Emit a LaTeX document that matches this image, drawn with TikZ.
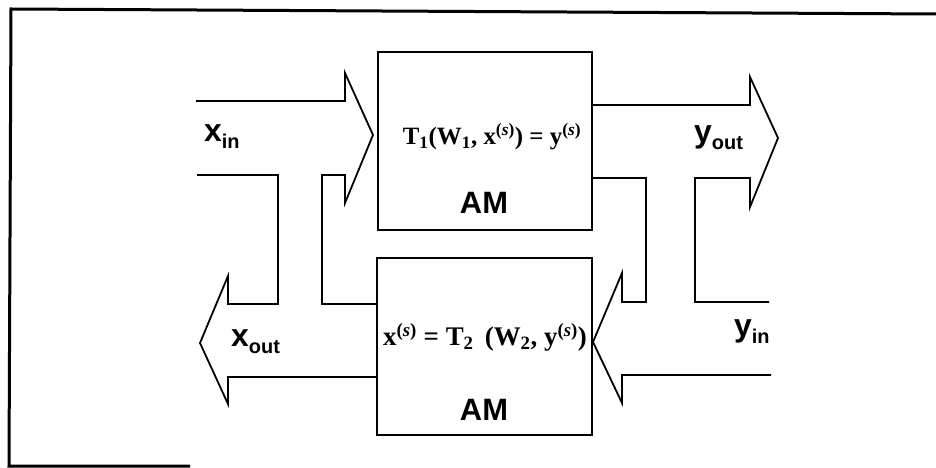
\documentclass[tikz,border=0pt]{standalone}
\usepackage{fontspec}
\setmainfont{Liberation Serif}
\newfontfamily\labfont{Liberation Sans}
\newcommand\sbl[1]{\raisebox{-6.5bp}{\fontsize{20}{20}\selectfont #1}}
\begin{document}
\begin{tikzpicture}[x=1bp,y=-1bp,line join=miter]
\tikzset{
  ambox/.style={draw,line width=2bp,minimum width=214bp,minimum height=178bp,inner sep=0},
  flow/.style={draw,line width=1.8bp},
  lbl/.style={font=\labfont\bfseries\fontsize{32}{32}\selectfont,inner sep=0,anchor=base west},
  eqn/.style={font=\bfseries\fontsize{25}{25}\selectfont,inner sep=0},
  amt/.style={font=\labfont\bfseries\fontsize{31}{31}\selectfont,inner sep=0},
  framel/.style={draw,line width=3bp}
}
\useasboundingbox (0,0) rectangle (936,468);
% outer frame
\draw[framel] (936,14) -- (11,9) -- (9,466) -- (190,466);
% boxes
\node[ambox] (b1) at (485,141) {};
\node[ambox,minimum width=215bp,minimum height=177bp] (b2) at (484.5,346.5) {};
% texts in boxes
\node[eqn] (e1) at (492,137) {T\textsubscript{1}(W\textsubscript{1}, x\textsuperscript{(\textit{s})}) = y\textsuperscript{(\textit{s})}};
\node[amt] (a1) at (484,202.5) {AM};
\node[eqn,font=\bfseries\fontsize{27}{27}\selectfont] (e2) at (485,337) {x\textsuperscript{(\textit{s})} = T\textsubscript{2}\, (W\textsubscript{2}, y\textsuperscript{(\textit{s})})};
\node[amt] (a2) at (484,410) {AM};
% coordinates
\coordinate (r1) at (0,304);
\coordinate (r2) at (0,377);
\coordinate (r3) at (0,105);
\coordinate (r4) at (0,178);
% x_in arrow and feedback
\draw[flow] (196,101) -- (345,101) -- (345,73) -- (373,135) -- (345,203) -- (345,175)
  -- (322,175) -- (322,304) -- (b2.west |- r1);
% x_out arrow
\draw[flow] (197,175) -- (278,175) -- (278,304) -- (228,304) -- (228,276) -- (200,343)
  -- (228,404) -- (228,377) -- (b2.west |- r2);
% y_out arrow
\draw[flow] (b1.east |- r3) -- (750,105) -- (750,77) -- (778,138) -- (750,207) -- (750,178)
  -- (695,178) -- (695,302) -- (769,302);
% y_in arrow and feedback
\draw[flow] (b1.east |- r4) -- (646,178) -- (646,302) -- (622,302) -- (622,273) -- (593,342)
  -- (622,403) -- (622,375) -- (771,375);
% labels
\node[lbl] (xin) at (204,142) {x\sbl{in}};
\node[lbl] (yout) at (694,143) {y\sbl{out}};
\node[lbl] (xout) at (231,347) {x\sbl{out}};
\node[lbl] (yin) at (734,337) {y\sbl{in}};
\end{tikzpicture}
\end{document}
